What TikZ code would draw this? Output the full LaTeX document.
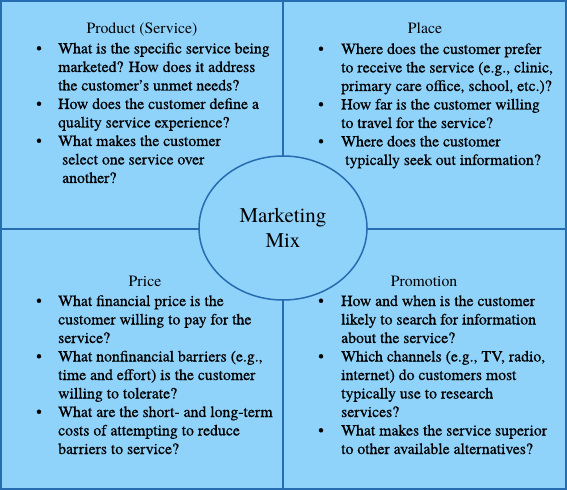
\documentclass[tikz,border=0pt]{standalone}
\usepackage{fontspec}
\setmainfont{texgyretermes-regular.otf}[BoldFont=texgyretermes-bold.otf]
\newfontfamily\bodyfont{texgyretermes-regular.otf}[FakeBold=0.5,Ligatures=TeX]
\usetikzlibrary{shapes.geometric}
\definecolor{boxfill}{RGB}{143,210,250}
\definecolor{boxline}{RGB}{38,108,176}
\tikzset{
  quad/.style={draw=boxline, fill=boxfill, line width=1.5bp},
  ttl/.style={anchor=base, inner sep=0, font=\fontsize{15.8}{18}\selectfont},
  txt/.style={anchor=base west, inner sep=0, font=\bodyfont\fontsize{15.8}{18}\selectfont},
  bul/.style={anchor=base, inner sep=0, font=\bodyfont\fontsize{15.8}{18}\selectfont},
  mixshape/.style={draw=boxline, fill=boxfill, line width=1.5bp, ellipse,
    minimum width=168bp, minimum height=144bp, inner sep=0},
  mixtxt/.style={anchor=base, inner sep=0, font=\fontsize{21}{24}\selectfont}
}
\begin{document}
\begin{tikzpicture}[x=1bp,y=-1bp]
\useasboundingbox (0,0) rectangle (567,490);
% quadrants
\draw[quad] (1,1) rectangle (283,229);
\draw[quad] (283,1) rectangle (566,229);
\draw[quad] (1,229) rectangle (283,489);
\draw[quad] (283,229) rectangle (566,489);
% Product
\node[ttl] (prodT) at (142,33.3) {Product (Service)};
\foreach \dx/\t [count=\i from 0] in {
  0/{What is the specific service being},
  0/{marketed? How does it address},
  0/{the customer’s unmet needs?},
  0/{How does the customer define a},
  0/{quality service experience?},
  0/{What makes the customer},
  4/{select one service over},
  4/{another?}}
  \node[txt] (prod\i) at (58+\dx,53.5+18.5*\i) {\t};
\foreach \k in {0,3,5}
  \node[bul] (prodB\k) at (39,53.5+18.5*\k) {\textbullet};
% Place
\node[ttl] (placeT) at (425,33.3) {Place};
\foreach \dx/\t [count=\i from 0] in {
  0/{Where does the customer prefer},
  0/{to receive the service (e.g., clinic,},
  0/{primary care office, school, etc.)?},
  0/{How far is the customer willing},
  0/{to travel for the service?},
  0/{Where does the customer},
  4/{typically seek out information?}}
  \node[txt] (place\i) at (341+\dx,54+18.5*\i) {\t};
\foreach \k in {0,3,5}
  \node[bul] (placeB\k) at (321,54+18.5*\k) {\textbullet};
% Price
\node[ttl] (priceT) at (145,286) {Price};
\foreach \t [count=\i from 0] in {
  {What financial price is the},
  {customer willing to pay for the},
  {service?},
  {What nonfinancial barriers (e.g.,},
  {time and effort) is the customer},
  {willing to tolerate?},
  {What are the short- and long-term},
  {costs of attempting to reduce},
  {barriers to service?}}
  \node[txt] (price\i) at (58,306+18.5*\i) {\t};
\foreach \k in {0,3,6}
  \node[bul] (priceB\k) at (39,306+18.5*\k) {\textbullet};
% Promotion
\node[ttl] (promT) at (424,286) {Promotion};
\foreach \t [count=\i from 0] in {
  {How and when is the customer},
  {likely to search for information},
  {about the service?},
  {Which channels (e.g., TV, radio,},
  {internet) do customers most},
  {typically use to research},
  {services?},
  {What makes the service superior},
  {to other available alternatives?}}
  \node[txt] (prom\i) at (341,306+18.5*\i) {\t};
\foreach \k in {0,3,7}
  \node[bul] (promB\k) at (321,306+18.5*\k) {\textbullet};
% centre
\node[mixshape] (mix) at (283,228) {};
\node[mixtxt] (mixA) at (283,223) {Marketing};
\node[mixtxt] (mixB) at (283,247) {Mix};
\end{tikzpicture}
\end{document}
